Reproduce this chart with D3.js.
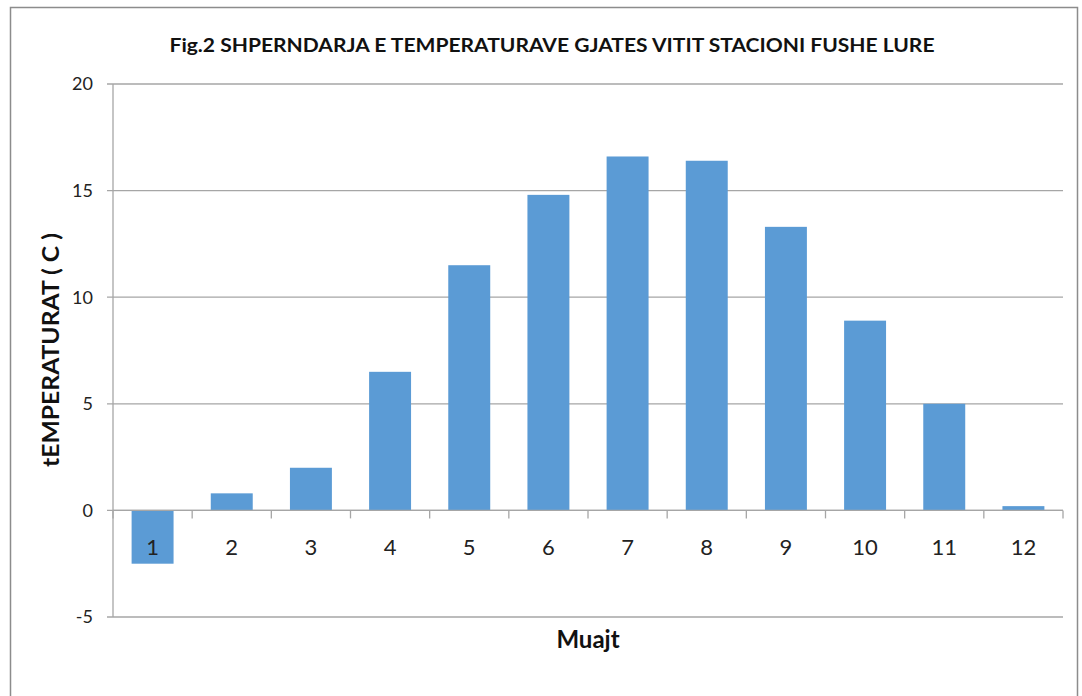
<!DOCTYPE html>
<html>
<head>
  <meta charset="UTF-8">
  <title>Fig.2 Shperndarja e temperaturave</title>
  <script src="https://cdn.jsdelivr.net/npm/d3@7"></script>
  <style>
    body { margin: 0; background: #fff; }
    svg { font-family: Lato, "Open Sans", "Liberation Sans", sans-serif; }
  </style>
</head>
<body>
<svg id="chart" width="1082" height="696"></svg>
<script>
// data
var months = ["1", "2", "3", "4", "5", "6", "7", "8", "9", "10", "11", "12"];
var temps = [-2.5, 0.8, 2.0, 6.5, 11.5, 14.8, 16.6, 16.4, 13.3, 8.9, 5.0, 0.2];
var yTicks = [-5, 0, 5, 10, 15, 20];

var svg = d3.select("#chart");
// plot area (note: "top" is reserved on window, so use other names)
var plotL = 113, plotR = 1063, plotT = 84, plotB = 617;

// outer frame
svg.append("path")
  .attr("d", "M10.5,700 V7.5 H1077.5 V700")
  .attr("fill", "none").attr("stroke", "#8c8c8c").attr("stroke-width", 1.5);

var x = d3.scaleBand().domain(months).range([plotL, plotR]).paddingInner(0.47).paddingOuter(0.235);
var y = d3.scaleLinear().domain([-5, 20]).range([plotB, plotT]);

// gridlines
svg.append("g").selectAll("line").data(yTicks).join("line")
  .attr("x1", plotL - 6).attr("x2", plotR)
  .attr("y1", d => y(d)).attr("y2", d => y(d))
  .attr("stroke", "#a6a6a6").attr("stroke-width", 1.3);

// y axis line
svg.append("line").attr("x1", plotL).attr("x2", plotL).attr("y1", plotT).attr("y2", plotB)
  .attr("stroke", "#a6a6a6").attr("stroke-width", 1.3);

svg.append("g").selectAll("text").data(yTicks).join("text")
  .attr("x", plotL - 20).attr("y", d => y(d)).attr("dy", "0.35em")
  .attr("text-anchor", "end").attr("font-size", 18).attr("fill", "#222")
  .text(d => d);

// bars
svg.append("g").selectAll("rect").data(temps).join("rect")
  .attr("x", (d, i) => x(months[i]))
  .attr("width", x.bandwidth())
  .attr("y", d => y(Math.max(0, d)))
  .attr("height", d => Math.abs(y(d) - y(0)))
  .attr("fill", "#5b9bd5");

// category axis at zero
var xAxis = svg.append("g").attr("transform", "translate(0," + y(0) + ")");
xAxis.append("line").attr("x1", plotL).attr("x2", plotR)
  .attr("stroke", "#a6a6a6").attr("stroke-width", 1.3);
var step = x.step();
xAxis.selectAll("line.tick").data(d3.range(months.length + 1)).join("line")
  .attr("class", "tick")
  .attr("x1", i => plotL + i * step).attr("x2", i => plotL + i * step)
  .attr("y1", 0).attr("y2", 8)
  .attr("stroke", "#a6a6a6").attr("stroke-width", 1.3);
xAxis.selectAll("text").data(months).join("text")
  .attr("x", d => x(d) + x.bandwidth() / 2).attr("y", 45)
  .attr("text-anchor", "middle").attr("font-size", 22).attr("fill", "#222")
  .text(d => d);

// titles
svg.append("text").attr("x", 552).attr("y", 52).attr("text-anchor", "middle")
  .attr("font-size", 18).attr("font-weight", "bold").attr("fill", "#111")
  .attr("textLength", 765).attr("lengthAdjust", "spacingAndGlyphs")
  .text("Fig.2  SHPERNDARJA E TEMPERATURAVE GJATES VITIT STACIONI FUSHE LURE");

svg.append("text").attr("x", 588).attr("y", 648).attr("text-anchor", "middle")
  .attr("font-size", 24).attr("font-weight", "bold").attr("fill", "#111")
  .text("Muajt");

svg.append("text").attr("transform", "translate(59,350) rotate(-90)")
  .attr("text-anchor", "middle")
  .attr("font-size", 23).attr("font-weight", "bold").attr("fill", "#111")
  .attr("textLength", 234).attr("lengthAdjust", "spacingAndGlyphs")
  .text("tEMPERATURAT  ( C )");
</script>
</body>
</html>
